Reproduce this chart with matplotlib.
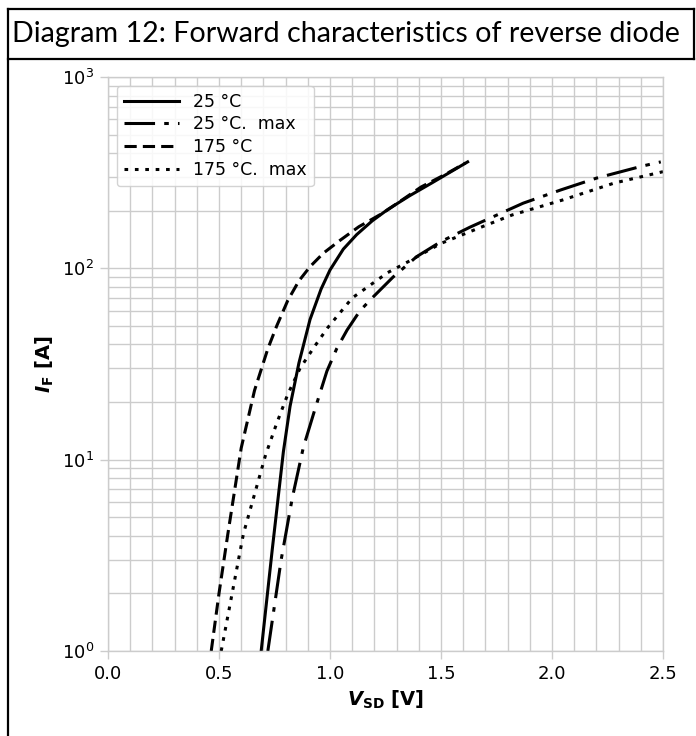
import numpy as np
import matplotlib
matplotlib.use('Agg')
import matplotlib.pyplot as plt
from matplotlib.lines import Line2D

# forward characteristics
v_25 = [0.69, 0.74, 0.79, 0.82, 0.86, 0.91, 0.96, 1.00, 1.06, 1.12, 1.19, 1.26, 1.36, 1.46, 1.62]
i_25 = [1.0, 3.4, 11.0, 19.0, 32.0, 54.0, 78.0, 98.0, 126.0, 150.0, 177.0, 203.0, 240.0, 280.0, 360.0]

v_25max = [0.72, 0.78, 0.83, 0.88, 0.93, 0.986, 1.03, 1.077, 1.135, 1.194, 1.284, 1.39, 1.50, 1.63, 1.87, 2.04, 2.20, 2.41, 2.49]
i_25max = [1.0, 3.0, 6.3, 11.6, 18.0, 29.0, 38.0, 47.6, 60.0, 70.8, 90.0, 115.0, 138.0, 164.0, 219.0, 257.0, 296.0, 343.0, 360.0]

v_175 = [0.465, 0.50, 0.54, 0.60, 0.66, 0.72, 0.76, 0.81, 0.86, 0.91, 0.97, 1.045, 1.13, 1.24, 1.41, 1.52, 1.61]
i_175 = [1.0, 2.0, 4.1, 11.5, 23.0, 38.0, 50.0, 68.0, 86.0, 102.0, 120.0, 140.0, 165.0, 195.0, 266.0, 310.0, 355.0]

v_175max = [0.51, 0.61, 0.71, 0.76, 0.81, 0.865, 0.93, 0.99, 1.10, 1.26, 1.35, 1.50, 1.68, 1.82, 2.05, 2.28, 2.50]
i_175max = [1.0, 4.1, 10.6, 15.5, 22.0, 30.0, 39.0, 49.0, 70.0, 95.0, 108.0, 135.0, 164.0, 190.0, 228.0, 279.0, 320.0]

labels = ['25 °C', '25 °C.  max', '175 °C', '175 °C.  max']

W, H = 696, 736
fig = plt.figure(figsize=(W / 100, H / 100), dpi=100)
ax = fig.add_axes([108 / W, 1 - 651 / H, 555 / W, 574 / H])

lw = 2.2
ax.plot(v_25, i_25, color='black', lw=lw, linestyle='-', label=labels[0])
ax.plot(v_25max, i_25max, color='black', lw=lw, linestyle=(0, (10, 3, 1.5, 3)), label=labels[1])
ax.plot(v_175, i_175, color='black', lw=lw, linestyle=(0, (4, 2)), label=labels[2])
ax.plot(v_175max, i_175max, color='black', lw=lw, linestyle=(0, (1.2, 2.2)), label=labels[3])

ax.set_yscale('log')
ax.set_xlim(0, 2.5)
ax.set_ylim(1, 1000)
ax.set_xticks(np.arange(0, 2.51, 0.5))
ax.set_xticks(np.arange(0, 2.51, 0.1), minor=True)

gc = '#cccccc'
ax.grid(True, which='both', color=gc, lw=1.0)
ax.set_axisbelow(True)
for s in ax.spines.values():
    s.set_color(gc)
    s.set_linewidth(1.0)
ax.tick_params(which='major', length=6, color=gc, width=1.0, labelsize=13, pad=4)
ax.tick_params(which='minor', length=0)

ax.set_xlabel(r'$\mathbfit{V}_\mathbf{SD}$ [V]', fontsize=14, fontweight='bold', labelpad=4)
ax.set_ylabel(r'$\mathbfit{I}_\mathbf{F}$ [A]', fontsize=14, fontweight='bold', labelpad=4)

leg = ax.legend(loc='upper left', fontsize=12.5, handlelength=3.2, borderaxespad=0.5,
                labelspacing=0.28, framealpha=0.85, edgecolor='#cccccc', fancybox=True)

# table frame around the diagram
def fline(x0, y0, x1, y1):
    fig.add_artist(Line2D([x0 / W, x1 / W], [1 - y0 / H, 1 - y1 / H], color='black', lw=1.6))

fline(8, 9, 694, 9)
fline(8, 59, 694, 59)
fline(694, 9, 694, 59)
fline(8, 9, 8, 736)

fig.text(12 / W, 1 - 34 / H, 'Diagram 12: Forward characteristics of reverse diode',
         fontsize=20.6, family='Lato', va='center', ha='left')

fig.savefig('out.png', dpi=100)
